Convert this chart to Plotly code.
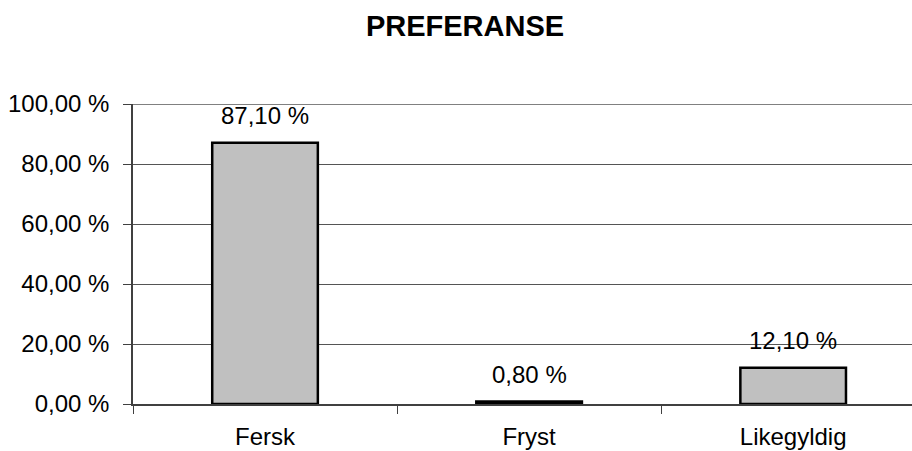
import plotly.graph_objects as go

# Preference shares (percent)
categories = ["Fersk", "Fryst", "Likegyldig"]
shares = [87.10, 0.80, 12.10]
share_labels = ["87,10 %", "0,80 %", "12,10 %"]
y_tick_values = [0, 20, 40, 60, 80, 100]
y_tick_labels = ["0,00 %", "20,00 %", "40,00 %", "60,00 %", "80,00 %", "100,00 %"]

FONT = "Liberation Sans, Arial, sans-serif"

fig = go.Figure()
fig.add_trace(go.Bar(
    x=categories,
    y=shares,
    width=0.4,
    marker=dict(color="#C0C0C0", line=dict(color="#000000", width=2.5)),
    hoverinfo="x+y",
))

# value labels above each bar
for cat, val, lab in zip(categories, shares, share_labels):
    fig.add_annotation(
        x=cat, y=val, text=lab, showarrow=False,
        yanchor="middle", yshift=27,
        font=dict(family=FONT, size=24, color="#000000"),
    )

# top border of the plot area
fig.add_shape(
    type="line", xref="paper", yref="y",
    x0=0, x1=1, y0=100, y1=100,
    line=dict(color="#808080", width=2),
)

fig.update_layout(
    width=912, height=451,
    margin=dict(l=133, r=0, t=104, b=47),
    paper_bgcolor="#FFFFFF",
    plot_bgcolor="#FFFFFF",
    showlegend=False,
    bargap=0.6,
    font=dict(family=FONT, size=24, color="#000000"),
    title=dict(
        text="<b>PREFERANSE</b>",
        x=465 / 912, xref="container", xanchor="center",
        y=1 - 26 / 451, yref="container", yanchor="middle",
        font=dict(family=FONT, size=29, color="#000000"),
    ),
    xaxis=dict(
        range=[-0.5, 2.45],
        automargin=False,
        showgrid=False,
        showline=True, linecolor="#404040", linewidth=1.5,
        ticks="outside", tickson="boundaries", ticklen=8,
        tickcolor="#404040", tickwidth=1,
        ticklabelstandoff=10,
        tickfont=dict(family=FONT, size=24, color="#000000"),
        fixedrange=True,
    ),
    yaxis=dict(
        range=[0, 100],
        automargin=False,
        tickvals=y_tick_values,
        ticktext=y_tick_labels,
        showgrid=True, gridcolor="#555555", gridwidth=1,
        zeroline=False,
        showline=True, linecolor="#404040", linewidth=1.5,
        ticks="outside", ticklen=8, tickcolor="#404040", tickwidth=1,
        ticklabelstandoff=9,
        tickfont=dict(family=FONT, size=24, color="#000000"),
        fixedrange=True,
    ),
)

fig.write_html("out.html")
